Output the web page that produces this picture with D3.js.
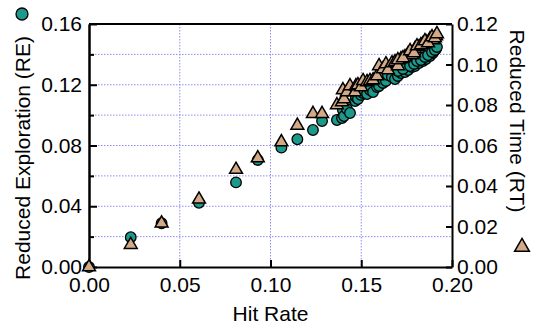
<!DOCTYPE html>
<html>
<head>
<meta charset="utf-8">
<script src="https://cdn.jsdelivr.net/npm/d3@7"></script>
<style>
  body { margin: 0; background: #fff; }
  text { font-family: "Liberation Sans", Arial, sans-serif; }
</style>
</head>
<body>
<script>
// hit rate of each run, with reduced exploration (circles, left axis) and reduced time (triangles, right axis)
const hitRate = [0, 0.023, 0.040, 0.0606, 0.081, 0.093, 0.106, 0.1148, 0.1234, 0.1284, 0.1366,
  0.1394, 0.1399, 0.1405, 0.1421, 0.1438, 0.1466, 0.1471, 0.1482, 0.1499, 0.1510, 0.1532, 0.1548,
  0.1565, 0.1587, 0.1598, 0.1620, 0.1636, 0.1647, 0.1669, 0.1686, 0.1702, 0.1719, 0.1741, 0.1758,
  0.1780, 0.1796, 0.1818, 0.1840, 0.1857, 0.1879, 0.1895, 0.1912,
  0.1702, 0.1730, 0.1769, 0.1791, 0.1807, 0.1829, 0.1851, 0.1868, 0.1890, 0.1906, 0.1917];
const reducedExploration = [0, 0.0196, 0.0288, 0.0423, 0.0557, 0.0705, 0.0786, 0.0841, 0.0902, 0.0961, 0.0968,
  0.0981, 0.1034, 0.0994, 0.1040, 0.1014, 0.1093, 0.1119, 0.1106, 0.1133, 0.1146, 0.1139, 0.1165,
  0.1152, 0.1185, 0.1192, 0.1212, 0.1225, 0.1264, 0.1251, 0.1238, 0.1258, 0.1277, 0.1284, 0.1297,
  0.1317, 0.1323, 0.1343, 0.1356, 0.1370, 0.1389, 0.1409, 0.1435,
  0.1291, 0.1304, 0.1323, 0.1337, 0.1356, 0.1363, 0.1383, 0.1396, 0.1416, 0.1429, 0.1449];
const reducedTime = [0, 0.011, 0.0216, 0.0334, 0.0481, 0.0538, 0.0617, 0.0699, 0.0757, 0.0757, 0.080,
  0.0815, 0.0874, 0.0830, 0.0864, 0.0894, 0.0864, 0.0894, 0.0899, 0.0889, 0.0919, 0.0914, 0.0919,
  0.0923, 0.0943, 0.0993, 0.0978, 0.1002, 0.0973, 0.1007, 0.1012, 0.0993, 0.1027, 0.1037, 0.1052,
  0.1047, 0.1077, 0.1086, 0.1101, 0.1111, 0.1126, 0.1121, 0.1141,
  0.1022, 0.1032, 0.1067, 0.1057, 0.1091, 0.1096, 0.1116, 0.1106, 0.1136, 0.1131, 0.1151];

const xTicks = [0, 0.05, 0.10, 0.15, 0.20];
const leftTicks = [0, 0.04, 0.08, 0.12, 0.16];
const leftMinor = [0.02, 0.06, 0.10, 0.14];
const rightTicks = [0, 0.02, 0.04, 0.06, 0.08, 0.10, 0.12];

const svgWidth = 539, svgHeight = 329;
const margin = { top: 24, right: 87, bottom: 62, left: 89 };
const width = svgWidth - margin.left - margin.right;
const height = svgHeight - margin.top - margin.bottom;

const teal = "#1b998b", tan = "#d4a985";

const root = d3.select("body")
  .append("svg")
  .attr("width", svgWidth)
  .attr("height", svgHeight);

const svg = root.append("g")
  .attr("transform", `translate(${margin.left},${margin.top})`);

const x = d3.scaleLinear().domain([0, 0.2]).range([0, width]);
const yL = d3.scaleLinear().domain([0, 0.16]).range([height, 0]);
const yR = d3.scaleLinear().domain([0, 0.12]).range([height, 0]);

// grid
const grid = svg.append("g")
  .attr("stroke", "#8c8cf5")
  .attr("stroke-width", 1)
  .attr("stroke-dasharray", "1.5,1.5");
grid.selectAll(".gh")
  .data(d3.range(1, 8).map(i => i * 0.02))
  .enter().append("line")
  .attr("x1", 0).attr("x2", width)
  .attr("y1", d => yL(d)).attr("y2", d => yL(d));
grid.selectAll(".gv")
  .data([0.05, 0.10, 0.15])
  .enter().append("line")
  .attr("y1", 0).attr("y2", height)
  .attr("x1", d => x(d)).attr("x2", d => x(d));

// axes
const fmt = d3.format(".2f");
svg.append("g")
  .attr("transform", `translate(0,${height})`)
  .call(d3.axisBottom(x).tickValues(xTicks).tickFormat(fmt).tickSize(-7).tickSizeOuter(0).tickPadding(10));

svg.append("g")
  .call(d3.axisLeft(yL).tickValues(leftMinor).tickFormat("").tickSize(-5).tickSizeOuter(0));
svg.append("g")
  .call(d3.axisLeft(yL).tickValues(leftTicks).tickFormat(fmt).tickSize(-8).tickSizeOuter(0).tickPadding(7));

svg.append("g")
  .attr("transform", `translate(${width},0)`)
  .call(d3.axisRight(yR).tickValues(rightTicks).tickFormat(fmt).tickSize(-6).tickSizeOuter(0).tickPadding(5));

svg.append("line")
  .attr("x1", 0).attr("x2", width).attr("y1", 0).attr("y2", 0)
  .attr("stroke", "#000").attr("stroke-width", 2);

svg.selectAll(".domain, .tick line").attr("stroke", "#000").attr("stroke-width", 2);
svg.selectAll(".tick text").attr("font-size", 21).attr("fill", "#000")
  .style("font-family", "'Liberation Sans', Arial, sans-serif");

// points
const idx = d3.range(hitRate.length);
svg.selectAll(".re")
  .data(idx)
  .enter().append("circle")
  .attr("class", "re")
  .attr("cx", i => x(hitRate[i]))
  .attr("cy", i => yL(reducedExploration[i]))
  .attr("r", 5.3)
  .attr("fill", teal)
  .attr("stroke", "#000")
  .attr("stroke-width", 1.3);

const tri = d3.symbol().type(d3.symbolTriangle).size(72);
svg.selectAll(".rt")
  .data(idx)
  .enter().append("path")
  .attr("class", "rt")
  .attr("d", tri)
  .attr("transform", i => `translate(${x(hitRate[i])},${yR(reducedTime[i])})`)
  .attr("fill", tan)
  .attr("stroke", "#000")
  .attr("stroke-width", 1.5);

// axis titles
root.append("text")
  .attr("transform", `translate(${margin.left + width / 2},${321})`)
  .attr("text-anchor", "middle")
  .attr("font-size", 21)
  .text("Hit Rate");

root.append("text")
  .attr("transform", "translate(30,158) rotate(-90)")
  .attr("text-anchor", "middle")
  .attr("font-size", 21)
  .text("Reduced Exploration (RE)");

root.append("text")
  .attr("transform", "translate(510,121) rotate(90)")
  .attr("text-anchor", "middle")
  .attr("font-size", 21)
  .text("Reduced Time (RT)");

// legend markers next to the titles
root.append("circle")
  .attr("cx", 22).attr("cy", 14).attr("r", 6)
  .attr("fill", teal).attr("stroke", "#000").attr("stroke-width", 1.3);
root.append("path")
  .attr("d", d3.symbol().type(d3.symbolTriangle).size(95))
  .attr("transform", "translate(522,247)")
  .attr("fill", tan).attr("stroke", "#000").attr("stroke-width", 1.5);
</script>
</body>
</html>
